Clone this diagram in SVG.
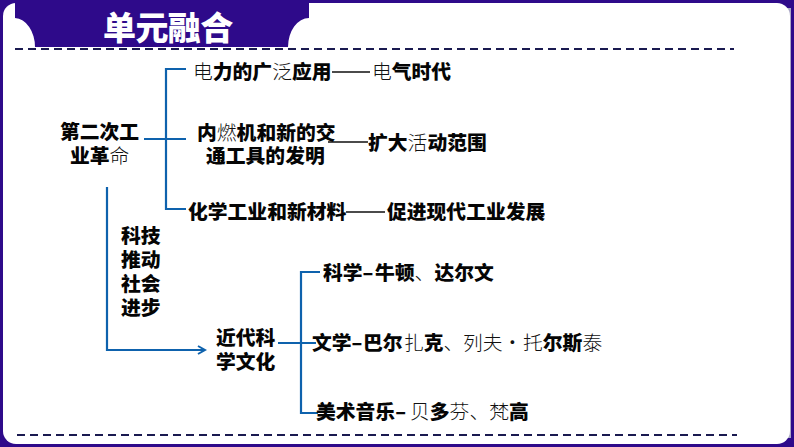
<svg xmlns="http://www.w3.org/2000/svg" width="794" height="447" viewBox="0 0 794 447">
<style>
text{font-family:"Noto Sans CJK SC","Liberation Sans",sans-serif;font-size:19.8px;font-weight:900;fill:#050505}
.l{font-weight:300;fill:#111}
.b{fill:none;stroke:#0e62ad;stroke-width:2.2}
.k{fill:none;stroke:#111;stroke-width:1.6}
.d{fill:none;stroke:#1a1a50;stroke-width:2;stroke-dasharray:8 5}
</style>
<defs><marker id="arrow" markerWidth="10" markerHeight="10" refX="8" refY="5" orient="auto" markerUnits="userSpaceOnUse"><path d="M1 1L8 5L1 9" fill="none" stroke="#0e62ad" stroke-width="2"/></marker></defs>
<g id="frame">
<rect width="794" height="447" fill="#2e0a8a"/>
<rect x="787" y="8" width="4" height="430" fill="#a9a6c4"/>
<rect x="3" y="3" width="787" height="441" rx="13" fill="#fff"/>
<path d="M15 0H309V18A21 29 0 0 0 288 47H35A21 29 0 0 0 15 18Z" fill="#2e0a8a"/>
<text x="103" y="40" style="font-size:33px;fill:#fff;letter-spacing:-.6px">单元融合</text>
<path class="d" d="M15 49H734"/>
<path class="d" d="M17 435H737"/>
</g>
<g id="connectors">
<path class="b" d="M186 69H166V209H186M144 139H186"/>
<path class="b" d="M107 187V350H205" marker-end="url(#arrow)"/>
<path class="b" d="M320 272H301V413H318M278 343H316"/>
<path class="k" d="M332 72H370M328 142H368M346 212H385"/>
</g>
<g id="n1"><text x="60" y="139">第二次工</text><text x="70" y="163">业革<tspan class="l">命</tspan></text></g>
<g id="n2"><text x="193" y="79"><tspan class="l">电</tspan>力的广<tspan class="l">泛</tspan>应用</text></g>
<g id="n3"><text x="372" y="79"><tspan class="l">电</tspan>气时代</text></g>
<g id="n4"><text x="197" y="140">内<tspan class="l">燃</tspan>机和新的交</text><text x="206" y="163">通工具的发明</text></g>
<g id="n5"><text x="368" y="150">扩大<tspan class="l">活</tspan>动范围</text></g>
<g id="n6"><text x="188" y="219">化学工业和新材料</text></g>
<g id="n7"><text x="387" y="219">促进现代工业发展</text></g>
<g id="n8"><text x="121" y="243">科技</text><text x="121" y="267">推动</text><text x="121" y="291">社会</text><text x="121" y="315">进步</text></g>
<g id="n9"><text x="216" y="345">近代科</text><text x="216" y="369">学文化</text></g>
<g id="n10"><text x="323" y="280">科学–<tspan x="375">牛顿</tspan><tspan class="l">、</tspan>达尔文</text></g>
<g id="n11"><text x="312" y="350">文学–<tspan x="363">巴尔</tspan><tspan class="l" x="404">扎</tspan>克<tspan class="l">、</tspan><tspan class="l" x="463">列夫·</tspan><tspan class="l" x="523">托</tspan>尔斯<tspan class="l">泰</tspan></text></g>
<g id="n12"><text x="316" y="419">美术音乐–<tspan class="l" x="410">贝</tspan>多<tspan class="l">芬、梵</tspan>高</text></g>
</svg>
